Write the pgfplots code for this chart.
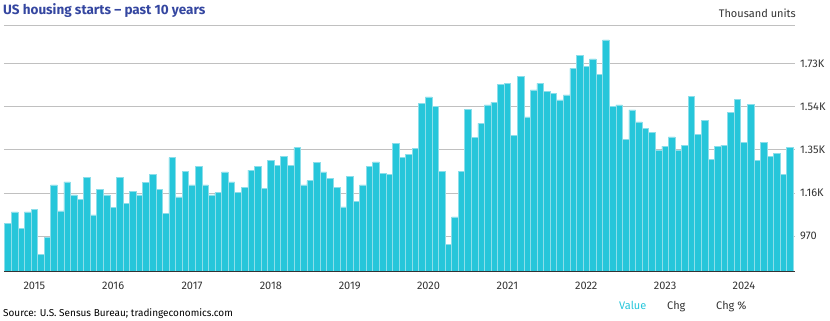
\documentclass[border=0pt]{standalone}
\usepackage{pgfplots}
\pgfplotsset{compat=1.18}
\usepackage{pgfplotstable}
\usepackage{fontspec}
\setmainfont{Fira Sans}
\definecolor{barcol}{RGB}{38,198,218}
\definecolor{baredge}{RGB}{140,222,234}
\definecolor{titleblue}{RGB}{52,70,160}
\definecolor{gridgray}{RGB}{192,192,192}
\definecolor{txtgray}{RGB}{51,51,51}
\pgfplotstableread{
idx val
0 1026
1 1077
2 1004
3 1077
4 1087
5 891
6 964
7 1196
8 1082
9 1209
10 1152
11 1133
12 1228
13 1064
14 1177
15 1152
16 1096
17 1228
18 1115
19 1167
20 1152
21 1206
22 1243
23 1177
24 1070
25 1316
26 1143
27 1256
28 1196
29 1277
30 1196
31 1152
32 1162
33 1253
34 1209
35 1162
36 1184
37 1261
38 1277
39 1180
40 1305
41 1283
42 1322
43 1280
44 1360
45 1196
46 1214
47 1294
48 1253
49 1224
50 1184
51 1099
52 1233
53 1124
54 1196
55 1277
56 1297
57 1246
58 1243
59 1378
60 1316
61 1331
62 1356
63 1554
64 1583
65 1542
66 1256
67 935
68 1055
69 1256
70 1528
71 1404
72 1466
73 1547
74 1558
75 1639
76 1642
77 1412
78 1671
79 1495
80 1613
81 1642
82 1607
83 1598
84 1569
85 1591
86 1708
87 1764
88 1715
89 1749
90 1683
91 1833
92 1542
93 1547
94 1397
95 1525
96 1473
97 1444
98 1426
99 1346
100 1366
101 1407
102 1346
103 1371
104 1586
105 1419
106 1478
107 1309
108 1366
109 1371
110 1514
111 1572
112 1382
113 1550
114 1305
115 1382
116 1322
117 1334
118 1243
119 1360
}\starts
\begin{document}
\begin{tikzpicture}[x=1pt,y=1pt]
\useasboundingbox (0,0) rectangle (830,321);
\begin{axis}[
  at={(4pt,49pt)}, anchor=south west,
  scale only axis, width=791pt, height=246pt,
  xmin=-0.61, xmax=119.77, ymin=813, ymax=1894,
  axis line style={draw=none},
  ymajorgrids, grid style={gridgray, line width=1pt},
  ytick={970,1160,1350,1540,1730},
  yticklabels={970,1.16K,1.35K,1.54K,1.73K},
  yticklabel pos=right,
  yticklabel style={anchor=west, inner xsep=0pt, xshift=5pt, font=\fontsize{11}{13}\selectfont, text=txtgray},
  xtick={4,16,...,112},
  xticklabels={2015,2016,2017,2018,2019,2020,2021,2022,2023,2024},
  xticklabel style={anchor=base, yshift=-17.5pt, font=\fontsize{11}{13}\selectfont, text=txtgray},
  major tick length=0pt,
]
\addplot[ybar, bar width=1, bar shift=0pt, fill=barcol, draw=baredge, line width=0.5pt] table[x=idx, y=val] {\starts};
\draw[txtgray, line width=1.4pt] (rel axis cs:0,0) -- (rel axis cs:1,0);
\draw[gridgray, line width=1pt] (rel axis cs:0,1) -- (rel axis cs:1,1);
\end{axis}
\node[anchor=base west, inner sep=0pt, text=titleblue, font=\fontsize{13.5}{15}\selectfont\bfseries] at (3,306) {US housing starts -- past 10 years};
\node[anchor=base east, inner sep=0pt, text=txtgray, font=\fontsize{11}{13}\selectfont] at (796,303) {Thousand units};
\node[anchor=base west, inner sep=0pt, text=barcol, font=\fontsize{11}{13}\selectfont] at (619,11) {Value};
\node[anchor=base west, inner sep=0pt, text=txtgray, font=\fontsize{11}{13}\selectfont] at (667,11) {Chg};
\node[anchor=base west, inner sep=0pt, text=txtgray, font=\fontsize{11}{13}\selectfont] at (716,11) {Chg \%};
\node[anchor=base west, inner sep=0pt, text=black, font=\fontsize{10}{12}\selectfont] at (3,4.5) {Source: U.S. Sensus Bureau; tradingeconomics.com};
\end{tikzpicture}
\end{document}
